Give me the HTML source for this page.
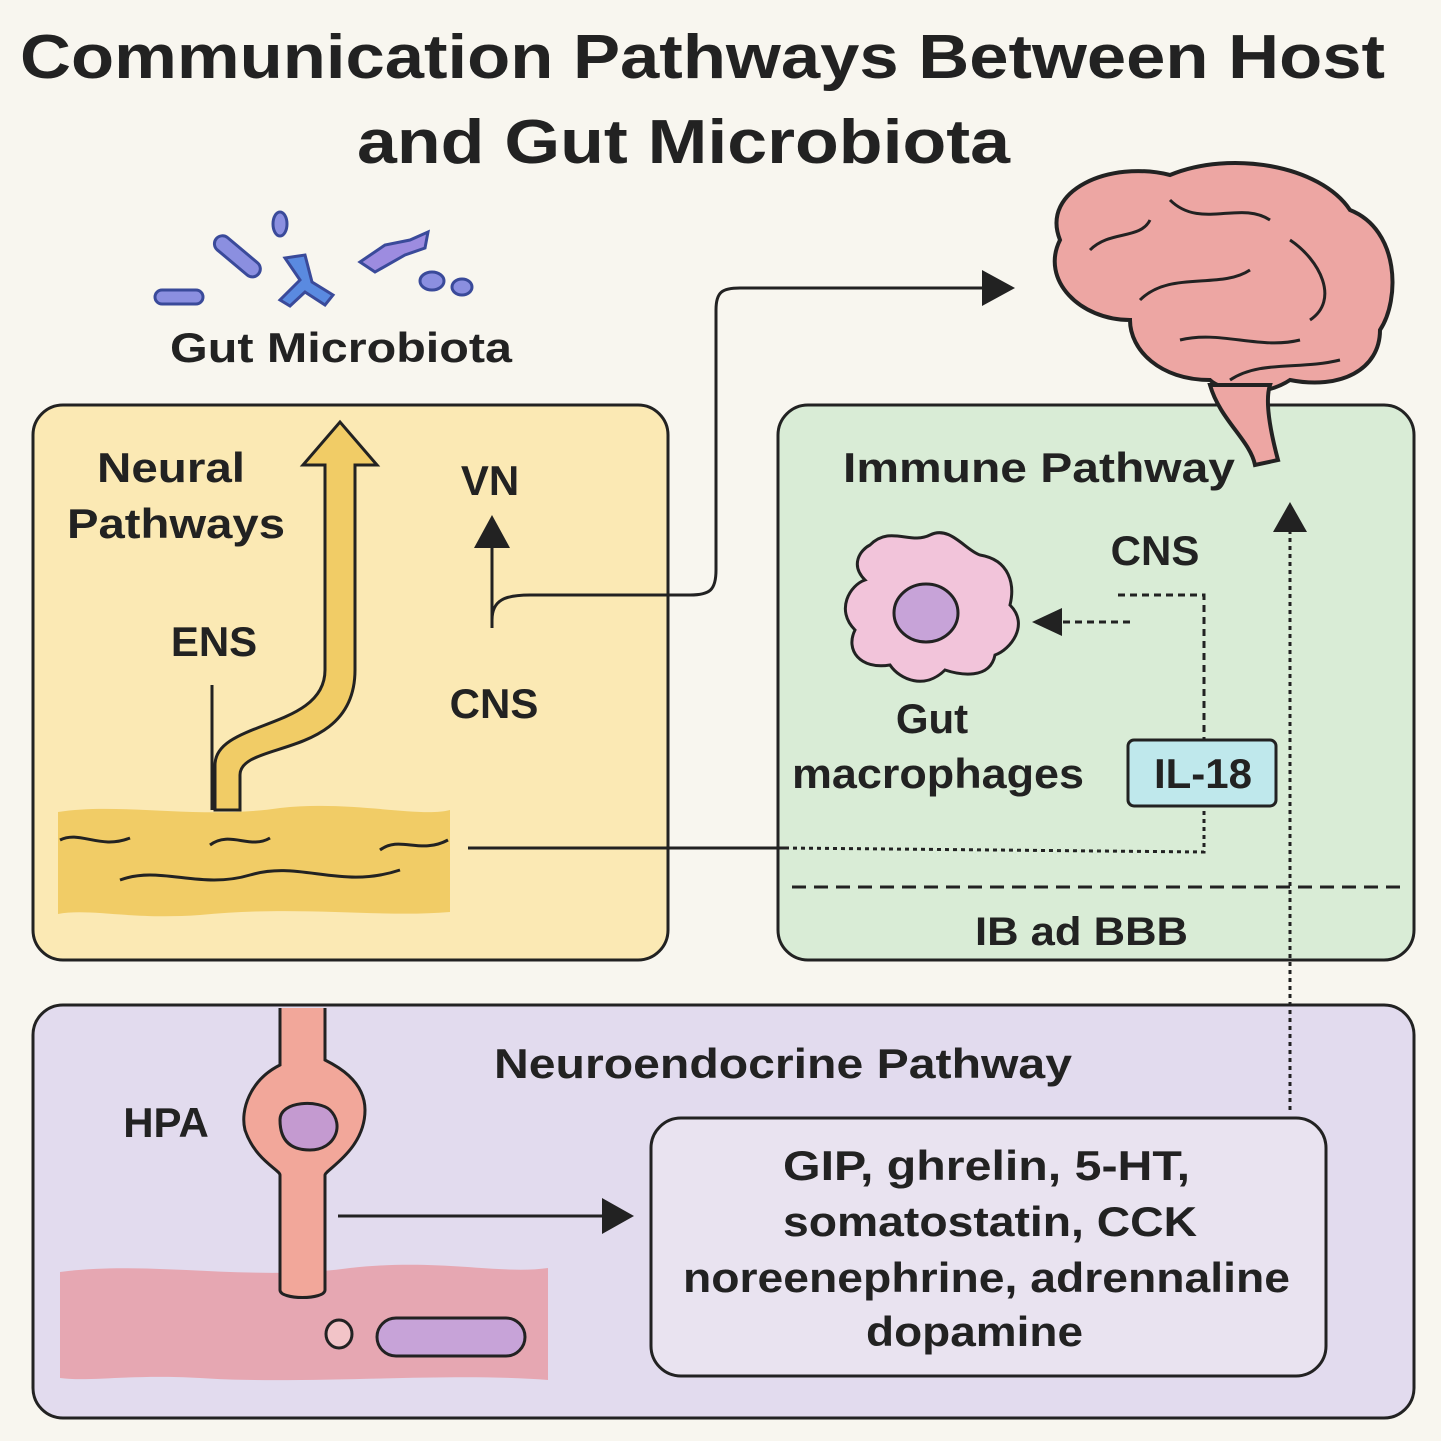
<!DOCTYPE html>
<html><head><meta charset="utf-8"><style>
html,body{margin:0;padding:0;background:#f8f6ef;}
svg{display:block}
text{font-family:"Liberation Sans","DejaVu Sans",sans-serif;fill:#222;}
</style></head><body>
<svg width="1441" height="1441" viewBox="0 0 1441 1441" xmlns="http://www.w3.org/2000/svg">
<rect width="1441" height="1441" fill="#f8f6ef"/>
<text x="20" y="78" font-size="62" font-weight="bold" textLength="1365" lengthAdjust="spacingAndGlyphs">Communication Pathways Between Host</text>
<text x="357" y="163" font-size="62" font-weight="bold" textLength="653" lengthAdjust="spacingAndGlyphs">and Gut Microbiota</text>

<!-- bacteria -->
<g stroke="#3a4a9a" stroke-width="3" fill="#8b8fe0">
<rect x="155" y="290" width="48" height="14" rx="7"/>
<rect x="210" y="248" width="55" height="16" rx="8" transform="rotate(40 237 256)"/>
<ellipse cx="280" cy="224" rx="7" ry="12"/>
<path d="M285 258 L300 280 L280 300 L290 306 L305 292 L325 305 L333 295 L312 282 L305 255 Z" fill="#5a8ae0"/>
<path d="M360 262 L385 245 L410 240 L428 232 L425 248 L405 255 L375 272 Z" fill="#9d8ce0"/>
<ellipse cx="432" cy="281" rx="12" ry="9"/>
<ellipse cx="462" cy="287" rx="10" ry="8"/>
</g>
<text x="170" y="362" font-size="42" font-weight="bold" textLength="342" lengthAdjust="spacingAndGlyphs">Gut Microbiota</text>

<!-- boxes -->
<rect x="33" y="405" width="635" height="555" rx="30" fill="#fbe9b4" stroke="#222" stroke-width="3"/>
<rect x="778" y="405" width="636" height="555" rx="30" fill="#d9ecd6" stroke="#222" stroke-width="3"/>
<rect x="33" y="1005" width="1381" height="413" rx="30" fill="#e2dbee" stroke="#222" stroke-width="3"/>

<!-- brain -->
<path d="M1060 240 C1040 190 1110 160 1170 175 C1230 150 1320 165 1350 210 C1400 230 1400 300 1380 330 C1380 370 1340 390 1290 380 C1260 400 1220 390 1210 380 C1160 380 1130 350 1130 320 C1080 320 1040 280 1060 240 Z" fill="#eda6a3" stroke="#222" stroke-width="4"/>
<path d="M1210 385 C1220 420 1250 440 1255 465 L1278 460 C1270 430 1265 400 1270 385 Z" fill="#eda6a3" stroke="#222" stroke-width="4"/>
<g fill="none" stroke="#222" stroke-width="3">
<path d="M1090 250 C1110 230 1140 240 1150 220"/><path d="M1170 200 C1200 230 1240 200 1270 220"/>
<path d="M1140 300 C1170 270 1220 290 1250 270"/><path d="M1290 240 C1320 260 1340 300 1310 320"/>
<path d="M1180 340 C1220 330 1260 350 1300 340"/><path d="M1230 380 C1260 360 1300 370 1340 360"/>
</g>

<!-- neural -->
<text x="97" y="482" font-size="42" font-weight="bold" textLength="148" lengthAdjust="spacingAndGlyphs">Neural</text>
<text x="67" y="538" font-size="42" font-weight="bold" textLength="218" lengthAdjust="spacingAndGlyphs">Pathways</text>
<text x="214" y="656" font-size="42" font-weight="bold" text-anchor="middle">ENS</text>
<text x="490" y="495" font-size="42" font-weight="bold" text-anchor="middle">VN</text>
<text x="494" y="718" font-size="42" font-weight="bold" text-anchor="middle">CNS</text>
<line x1="212" y1="685" x2="212" y2="810" stroke="#222" stroke-width="3"/>
<path d="M58 812 C120 802 200 820 280 808 C350 800 420 818 450 810 L450 912 C380 918 300 905 200 915 C130 920 90 908 58 914 Z" fill="#f1cc66"/>
<g fill="none" stroke="#222" stroke-width="3"><path d="M60 840 C80 830 100 850 130 838"/><path d="M210 845 C230 830 250 850 270 838"/><path d="M380 850 C400 835 420 855 448 840"/><path d="M120 880 C160 865 200 890 250 875 C300 860 340 890 400 870"/></g>
<path d="M215 810 L215 765 C215 720 325 730 325 670 L325 465 L303 465 L340 422 L377 465 L355 465 L355 670 C355 760 240 740 240 775 L240 810 Z" fill="#f1cc66" stroke="#222" stroke-width="3"/>
<line x1="492" y1="628" x2="492" y2="545" stroke="#222" stroke-width="3"/>
<polygon points="474,548 492,515 510,548" fill="#222"/>
<path d="M492 620 C492 600 505 595 530 595 L690 595 C710 595 716 590 716 570 L716 310 C716 292 722 288 740 288 L985 288" fill="none" stroke="#222" stroke-width="3"/>
<polygon points="982,270 1015,288 982,306" fill="#222"/>

<!-- immune -->
<text x="843" y="482" font-size="42" font-weight="bold" textLength="392" lengthAdjust="spacingAndGlyphs">Immune Pathway</text>
<text x="1155" y="565" font-size="42" font-weight="bold" text-anchor="middle">CNS</text>
<path d="M870 545 C890 525 910 545 930 535 C950 525 965 550 980 555 C1010 560 1015 585 1010 605 C1030 625 1010 650 995 655 C990 680 960 675 945 670 C925 690 900 680 890 665 C860 670 845 650 855 630 C835 610 850 585 865 580 C850 565 860 550 870 545 Z" fill="#f2c4da" stroke="#222" stroke-width="3"/>
<ellipse cx="926" cy="613" rx="32" ry="29" fill="#c7a3d8" stroke="#222" stroke-width="3"/>
<text x="932" y="733" font-size="42" font-weight="bold" text-anchor="middle">Gut</text>
<text x="792" y="788" font-size="42" font-weight="bold" textLength="292" lengthAdjust="spacingAndGlyphs">macrophages</text>
<path d="M1130 622 L1060 622" stroke="#222" stroke-width="3" stroke-dasharray="7,5" fill="none"/>
<polygon points="1062,608 1032,622 1062,636" fill="#222"/>
<path d="M1118 595 L1204 595 L1204 740" stroke="#222" stroke-width="3" stroke-dasharray="7,5" fill="none"/>
<rect x="1128" y="740" width="148" height="66" rx="6" fill="#bfe8ec" stroke="#222" stroke-width="3"/>
<text x="1203" y="788" font-size="42" font-weight="bold" text-anchor="middle">IL-18</text>
<path d="M468 848 L785 848" stroke="#222" stroke-width="3"/>
<path d="M785 848 L1204 852 L1204 806" stroke="#222" stroke-width="3" stroke-dasharray="4,4" fill="none"/>
<line x1="792" y1="887" x2="1400" y2="887" stroke="#222" stroke-width="3" stroke-dasharray="14,8"/>
<text x="975" y="945" font-size="40" font-weight="bold" textLength="213" lengthAdjust="spacingAndGlyphs">IB ad BBB</text>
<line x1="1290" y1="1110" x2="1290" y2="530" stroke="#222" stroke-width="3" stroke-dasharray="4,4"/>
<polygon points="1273,532 1290,502 1307,532" fill="#222"/>

<!-- neuroendocrine -->
<text x="494" y="1078" font-size="42" font-weight="bold" textLength="578" lengthAdjust="spacingAndGlyphs">Neuroendocrine Pathway</text>
<text x="166" y="1137" font-size="42" font-weight="bold" text-anchor="middle">HPA</text>
<path d="M60 1272 C150 1260 250 1282 350 1268 C440 1258 500 1275 548 1268 L548 1380 C450 1372 300 1385 200 1378 C130 1374 90 1382 60 1378 Z" fill="#e6a7b2"/>
<path d="M280 1008 L280 1065 C250 1080 240 1110 245 1130 C255 1160 280 1170 280 1175 L280 1290 C280 1300 325 1300 325 1290 L325 1175 C325 1170 365 1150 365 1110 C365 1080 335 1065 325 1060 L325 1008" fill="#f2a79a" stroke="#222" stroke-width="3"/>
<path d="M280 1120 C280 1100 320 1100 330 1110 C345 1125 335 1150 310 1150 C290 1150 280 1140 280 1120 Z" fill="#c49ad0" stroke="#222" stroke-width="3"/>
<ellipse cx="339" cy="1334" rx="13" ry="14" fill="#f2c4c8" stroke="#222" stroke-width="3"/>
<rect x="377" y="1318" width="148" height="38" rx="19" fill="#c7a3d8" stroke="#222" stroke-width="3"/>
<line x1="338" y1="1216" x2="605" y2="1216" stroke="#222" stroke-width="3"/>
<polygon points="602,1198 634,1216 602,1234" fill="#222"/>
<rect x="651" y="1118" width="675" height="258" rx="30" fill="#e9e3f0" stroke="#222" stroke-width="3"/>
<g font-size="42" font-weight="bold" lengthAdjust="spacingAndGlyphs">
<text x="783" y="1180" textLength="407" lengthAdjust="spacingAndGlyphs">GIP, ghrelin, 5-HT,</text>
<text x="783" y="1236" textLength="414" lengthAdjust="spacingAndGlyphs">somatostatin, CCK</text>
<text x="683" y="1292" textLength="607" lengthAdjust="spacingAndGlyphs">noreenephrine, adrennaline</text>
<text x="866" y="1346" textLength="217" lengthAdjust="spacingAndGlyphs">dopamine</text>
</g>
</svg>
</body></html>
